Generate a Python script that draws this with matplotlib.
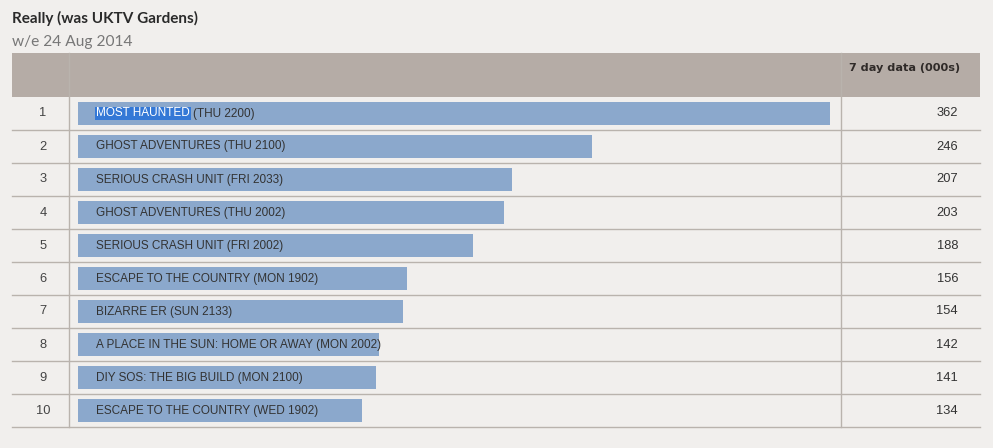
import matplotlib
matplotlib.use("Agg")
import matplotlib.pyplot as plt
from matplotlib.lines import Line2D
from matplotlib.patches import Rectangle

# data
ranks = [1, 2, 3, 4, 5, 6, 7, 8, 9, 10]
programmes = ["MOST HAUNTED (THU 2200)",
              "GHOST ADVENTURES (THU 2100)",
              "SERIOUS CRASH UNIT (FRI 2033)",
              "GHOST ADVENTURES (THU 2002)",
              "SERIOUS CRASH UNIT (FRI 2002)",
              "ESCAPE TO THE COUNTRY (MON 1902)",
              "BIZARRE ER (SUN 2133)",
              "A PLACE IN THE SUN: HOME OR AWAY (MON 2002)",
              "DIY SOS: THE BIG BUILD (MON 2100)",
              "ESCAPE TO THE COUNTRY (WED 1902)"]
viewers = [362, 246, 207, 203, 188, 156, 154, 142, 141, 134]

title = "Really (was UKTV Gardens)"
subtitle = "w/e 24 Aug 2014"
col_header = "7 day data (000s)"

# colours
BG = "#f1efed"
HEAD = "#b5aca6"
BAR = "#8ba8cc"
LINE = "#b9b3ad"
TXT = "#333333"

W, H = 993, 448
fig = plt.figure(figsize=(W / 100, H / 100), dpi=100, facecolor=BG)


def fx(px):
    return px / W


def fy(py):
    return 1 - py / H


# table geometry in pixels
tab_l, tab_r = 12, 980
head_t, head_b = 53, 97
row_h = 33
col1, col2 = 69, 841
n = len(ranks)
tab_b = head_b + row_h * n

fig.text(fx(12), fy(18), title, fontsize=11, fontweight="bold",
         family="Lato", color="#2a2a2a", va="center", ha="left")
fig.text(fx(12), fy(42), subtitle, fontsize=11.2, family="Lato",
         color="#777777", va="center", ha="left")

# header band
fig.patches.append(Rectangle((fx(tab_l), fy(head_b)), fx(tab_r - tab_l),
                             (head_b - head_t) / H, transform=fig.transFigure,
                             facecolor=HEAD, edgecolor="none", zorder=0))
fig.text(fx(849), fy(68), col_header, fontsize=8.1, fontweight="bold",
         family="DejaVu Sans", color="#2f2a28", va="center", ha="left")

# grid lines
for i in range(n):
    yb = head_b + row_h * (i + 1)
    fig.lines.append(Line2D([fx(tab_l), fx(tab_r)], [fy(yb), fy(yb)],
                            transform=fig.transFigure, color=LINE, lw=1))
for xv in (col1, col2):
    fig.lines.append(Line2D([fx(xv), fx(xv)], [fy(head_t), fy(tab_b)],
                            transform=fig.transFigure, color=LINE, lw=1))

# bar axes (between the two column dividers)
ax = fig.add_axes([fx(col1), fy(tab_b), fx(col2 - col1), (tab_b - head_b) / H])
ax.set_facecolor("none")
scale = 2.053          # px per thousand
pad = 9 / scale        # bars start a little before zero
zero_px = 87
ax.set_xlim((col1 - zero_px) / scale, (col2 - zero_px) / scale)
ax.set_ylim(n + 0.5, 0.5)
ax.barh(ranks, [v + pad for v in viewers], left=-pad, height=0.7,
        color=BAR, edgecolor="none")
for s in ax.spines.values():
    s.set_visible(False)
ax.set_xticks([])
ax.set_yticks([])

LBL = 8.45
label_x = (96 - zero_px) / scale
for r, p in zip(ranks, programmes):
    if r == 1:
        t = ax.text(label_x, r, "MOST HAUNTED", fontsize=LBL,
                    family="Liberation Sans", color="white", va="center",
                    ha="left",
                    bbox=dict(facecolor="#3478d6", edgecolor="none", pad=0.6))
        fig.canvas.draw()
        bb = t.get_window_extent()
        x_end = ax.transData.inverted().transform((bb.x1 + 3, 0))[0]
        ax.text(x_end, r, "(THU 2200)", fontsize=LBL,
                family="Liberation Sans", color=TXT, va="center", ha="left")
    else:
        ax.text(label_x, r, p, fontsize=LBL, family="Liberation Sans",
                color=TXT, va="center", ha="left")

# rank and value columns
for i, (r, v) in enumerate(zip(ranks, viewers)):
    yc = head_b + row_h * (i + 0.5)
    fig.text(fx(43), fy(yc), str(r), fontsize=9.3, family="Liberation Sans",
             color="#444444", va="center", ha="center")
    fig.text(fx(958), fy(yc), str(v), fontsize=9.3, family="Liberation Sans",
             color=TXT, va="center", ha="right")

fig.savefig("out.png", dpi=100, facecolor=BG)
